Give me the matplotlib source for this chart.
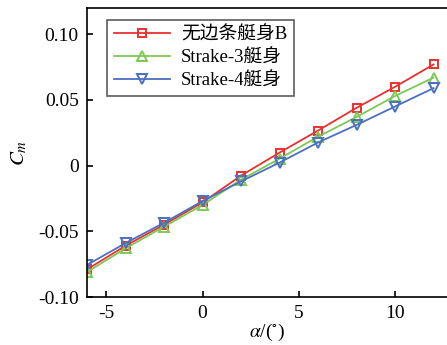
import numpy as np
import matplotlib.pyplot as plt

plt.rcParams['font.family'] = ['Liberation Serif', 'Noto Sans CJK SC']
plt.rcParams['mathtext.fontset'] = 'stix'

alpha = [-6, -4, -2, 0, 2, 4, 6, 8, 10, 12]
cm_base = [-0.079, -0.061, -0.045, -0.028, -0.0076, 0.0099, 0.0267, 0.044, 0.060, 0.077]
cm_s3 = [-0.081, -0.063, -0.0465, -0.030, -0.0107, 0.0053, 0.022, 0.037, 0.053, 0.067]
cm_s4 = [-0.0756, -0.059, -0.0435, -0.027, -0.012, 0.0023, 0.0176, 0.031, 0.045, 0.059]
labels = ['无边条艇身B', 'Strake-3艇身', 'Strake-4艇身']

fig = plt.figure(figsize=(4.47, 3.45), dpi=100)
ax = fig.add_axes([87/447, 1-297/345, 1-87/447, (297-8)/345])

ax.plot(alpha, cm_base, color='#e8312f', marker='s', mfc='none', ms=5.5, mew=1.4, lw=1.3, label=labels[0])
ax.plot(alpha, cm_s3, color='#7ec855', marker='^', mfc='none', ms=7, mew=1.4, lw=1.3, label=labels[1])
ax.plot(alpha, cm_s4, color='#4a70c0', marker='v', mfc='none', ms=7, mew=1.4, lw=1.3, label=labels[2])

ax.set_xlim(-6, 12.7)
ax.set_ylim(-0.10, 0.12)
ax.set_xticks([-5, 0, 5, 10])
ax.set_xticklabels(['-5', '0', '5', '10'])
ax.set_yticks([-0.10, -0.05, 0, 0.05, 0.10])
ax.set_yticklabels(['-0.10', '-0.05', '0', '0.05', '0.10'])
ax.tick_params(direction='in', length=4, width=1.2, labelsize=14, pad=6)
ax.spines['right'].set_visible(False)
for s in ['left', 'bottom', 'top']:
    ax.spines[s].set_linewidth(1.2)

ax.set_xlabel(r'$\alpha$/($^{\circ}$)', fontsize=14, labelpad=0)
ax.set_ylabel(r'$C_m$', fontsize=15, labelpad=6)

leg = ax.legend(loc='upper left', bbox_to_anchor=(20/360, 1-12/289), fontsize=13.5,
                frameon=True, fancybox=False, edgecolor='#333333', borderpad=0.35,
                handlelength=3.0, labelspacing=0.3, borderaxespad=0, handletextpad=0.6)
leg.get_frame().set_linewidth(1.2)

fig.savefig('out.png', dpi=100)
